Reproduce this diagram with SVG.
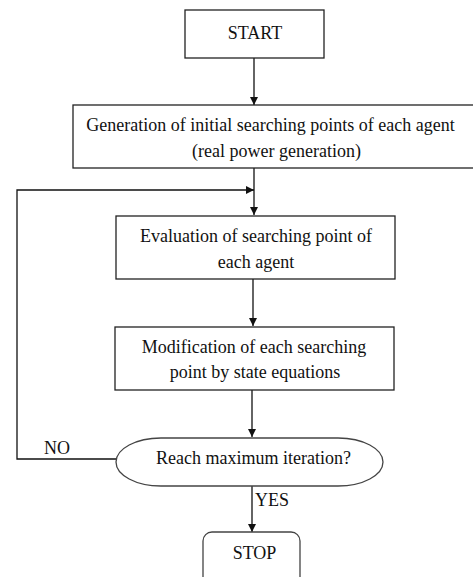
<svg xmlns="http://www.w3.org/2000/svg" width="473" height="577" viewBox="0 0 473 577">
<defs>
<style>
.box{fill:#fff;stroke:#222;stroke-width:1.3}
.term{fill:#fff;stroke:#444;stroke-width:1.3}
.t{font-family:"Liberation Serif","Times New Roman",serif;font-size:18px;fill:#111;text-anchor:middle}
.l{font-family:"Liberation Serif","Times New Roman",serif;font-size:18px;fill:#111}
.c{fill:none;stroke:#111;stroke-width:1.3}
</style>
<marker id="ah" viewBox="0 0 10 10" refX="10" refY="5" markerWidth="8" markerHeight="8" markerUnits="userSpaceOnUse" orient="auto">
<path d="M0,0 L10,5 L0,10 Z" fill="#111"/>
</marker>
</defs>
<g id="connectors">
<line class="c" x1="254" y1="58" x2="254" y2="105" marker-end="url(#ah)"/>
<line class="c" x1="254" y1="168" x2="254" y2="215" marker-end="url(#ah)"/>
<polyline class="c" points="116,459 17,459 17,190 254,190" marker-end="url(#ah)"/>
<line class="c" x1="253" y1="279" x2="253" y2="326" marker-end="url(#ah)"/>
<line class="c" x1="252" y1="390" x2="252" y2="437" marker-end="url(#ah)"/>
<line class="c" x1="252" y1="486" x2="252" y2="532" marker-end="url(#ah)"/>
<text class="l" x="44" y="454">NO</text>
<text class="l" x="255" y="506">YES</text>
</g>
<g id="start">
<rect class="box" x="185" y="10" width="139" height="48"/>
<text class="t" x="255" y="39">START</text>
</g>
<g id="generation">
<rect class="box" x="73" y="105" width="402" height="63"/>
<text class="t" x="270.5" y="131">Generation of initial searching points of each agent</text>
<text class="t" x="276.5" y="157">(real power generation)</text>
</g>
<g id="evaluation">
<rect class="box" x="116" y="216" width="279" height="63"/>
<text class="t" x="256" y="242">Evaluation of searching point of</text>
<text class="t" x="256" y="268">each agent</text>
</g>
<g id="modification">
<rect class="box" x="115" y="327" width="279" height="63"/>
<text class="t" x="254" y="353">Modification of each searching</text>
<text class="t" x="255" y="378">point by state equations</text>
</g>
<g id="decision">
<rect class="term" x="116" y="438" width="267" height="48" rx="45" ry="24"/>
<text class="t" x="253.5" y="464">Reach maximum iteration?</text>
</g>
<g id="stop">
<rect class="term" x="203" y="532" width="97" height="60" rx="9" ry="9"/>
<text class="t" x="254.5" y="559">STOP</text>
</g>
</svg>
